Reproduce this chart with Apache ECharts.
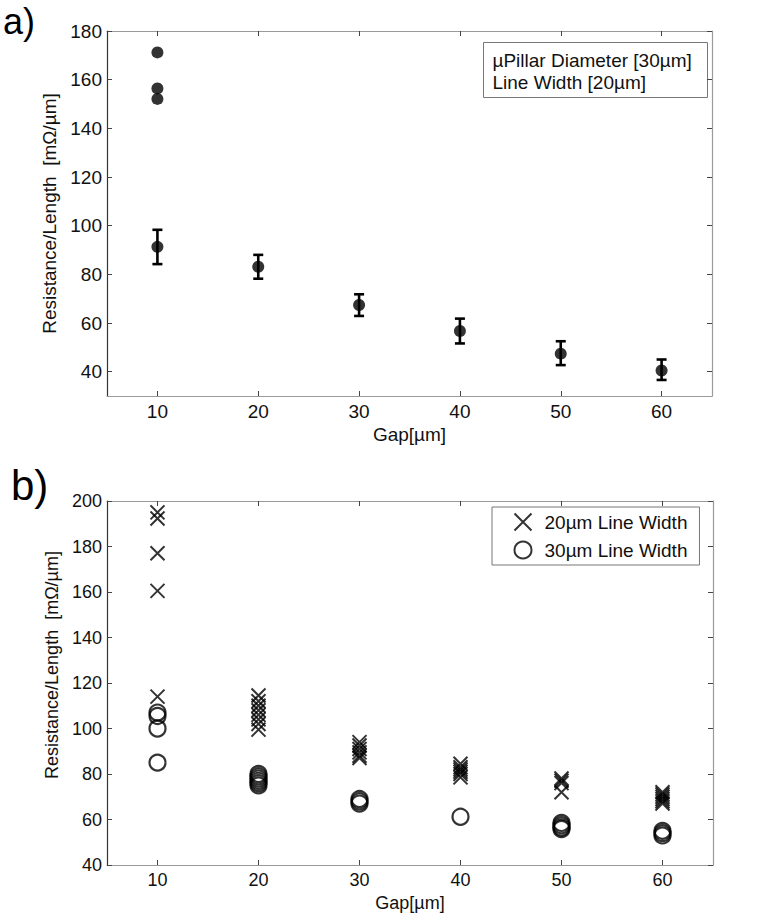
<!DOCTYPE html>
<html>
<head>
<meta charset="utf-8">
<script src="https://cdn.jsdelivr.net/npm/echarts@6/dist/echarts.min.js"></script>
<style>
html,body{margin:0;padding:0;background:#fff;}
#chart{width:771px;height:918px;}
</style>
</head>
<body>
<div id="chart"></div>
<script>
// ---- tick labels ----
const gapTicks = [10, 20, 30, 40, 50, 60];
const yTicksA = [40, 60, 80, 100, 120, 140, 160, 180];
const yTicksB = [40, 60, 80, 100, 120, 140, 160, 180, 200];

// ---- panel a: mean with error bars ----
const gapA = [10, 20, 30, 40, 50, 60];
const meanA = [91.3, 83.1, 67.4, 56.7, 47.4, 40.5];
const lowA = [84.2, 78.2, 62.9, 51.6, 42.7, 36.6];
const highA = [98.3, 88.0, 71.8, 61.8, 52.5, 45.0];
// extra single points at gap 10
const extraGapA = [10, 10, 10];
const extraValA = [171.2, 156.4, 152.1];

// ---- panel b: individual measurements ----
const lw20Gap = [10, 10, 10, 10, 10,
  20, 20, 20, 20, 20, 20, 20, 20,
  30, 30, 30, 30, 30, 30,
  40, 40, 40, 40, 40, 40,
  50, 50, 50, 50,
  60, 60, 60, 60, 60, 60];
const lw20Val = [195, 192.3, 177, 160.5, 114,
  114.5, 112, 110, 108, 106, 104, 102, 99.5,
  94, 92.5, 91, 89.5, 88, 87,
  84.5, 83, 82, 81, 80, 78.5,
  78, 77, 76, 72,
  72, 71, 70, 69, 68, 67];
const lw30Gap = [10, 10, 10, 10,
  20, 20, 20, 20, 20, 20,
  30, 30, 30,
  40,
  50, 50, 50, 50,
  60, 60, 60];
const lw30Val = [107, 105.5, 100, 85,
  80, 79, 78, 77, 76, 75,
  69, 68, 67,
  61.2,
  58.5, 57.5, 56.5, 55.8,
  55, 54, 53];

const legendA = ['µPillar Diameter [30µm]', 'Line Width [20µm]'];
const seriesNamesB = ['20µm Line Width', '30µm Line Width'];

const FONT = 'Liberation Sans, Arial, Helvetica, sans-serif';
const zip = (a, b) => a.map((v, i) => [v, b[i]]);

function xAxes(grid, fs) {
  const base = {
    gridIndex: grid, type: 'value', min: 5, max: 65,
    splitLine: { show: false },
    axisLine: { show: true, onZero: false, lineStyle: { color: '#9a9a9a', width: 1.2 } },
    axisTick: { show: true, inside: true, length: 5, customValues: gapTicks, lineStyle: { color: '#444', width: 1 } }
  };
  return [
    Object.assign({}, base, {
      position: 'bottom',
      axisLabel: { customValues: gapTicks, fontFamily: FONT, fontSize: fs, color: '#111', margin: 6 },
      name: 'Gap[µm]', nameLocation: 'middle', nameGap: 29,
      nameTextStyle: { fontFamily: FONT, fontSize: fs, color: '#111' }
    }),
    Object.assign({}, base, { position: 'top', axisLabel: { show: false } })
  ];
}
function yAxes(grid, min, max, ticks, fs, namePad) {
  const base = {
    gridIndex: grid, type: 'value', min: min, max: max,
    splitLine: { show: false },
    axisTick: { show: true, inside: true, length: 5, customValues: ticks, lineStyle: { color: '#444', width: 1 } }
  };
  return [
    Object.assign({}, base, {
      position: 'left',
      axisLine: { show: true, onZero: false, lineStyle: { color: '#333', width: 1.2 } },
      axisLabel: { customValues: ticks, fontFamily: FONT, fontSize: fs, color: '#111', margin: 5 },
      name: 'Resistance/Length  [mΩ/µm]', nameLocation: 'middle', nameGap: 44,
      nameTextStyle: { fontFamily: FONT, fontSize: fs, color: '#111', padding: namePad }
    }),
    Object.assign({}, base, {
      position: 'right',
      axisLine: { show: true, onZero: false, lineStyle: { color: '#9a9a9a', width: 1.2 } },
      axisLabel: { show: false }
    })
  ];
}

const chart = echarts.init(document.getElementById('chart'), null, { renderer: 'svg' });

const option = {
  backgroundColor: '#fff',
  animation: false,
  title: [
    { text: 'a)', left: 3, top: 3, padding: 0, textStyle: { fontFamily: FONT, fontSize: 36, fontWeight: 'normal', color: '#000' } },
    { text: 'b)', left: 11, top: 464, padding: 0, textStyle: { fontFamily: FONT, fontSize: 42, fontWeight: 'normal', color: '#000' } }
  ],
  grid: [
    { left: 107, top: 31, width: 605, height: 365 },
    { left: 107, top: 501, width: 606, height: 364 }
  ],
  xAxis: [].concat(xAxes(0, 19), xAxes(1, 18)),
  yAxis: [].concat(yAxes(0, 30, 180, yTicksA, 19, 0), yAxes(1, 40, 200, yTicksB, 18, [0, 0, 0, 36])),
  legend: {
    data: seriesNamesB,
    orient: 'vertical',
    left: 492, top: 507,
    itemWidth: 17, itemHeight: 17, itemGap: 6,
    padding: [4, 12, 4, 20],
    borderColor: '#777', borderWidth: 1, backgroundColor: '#fff',
    textStyle: { fontFamily: FONT, fontSize: 19, color: '#111', padding: [0, 0, 0, 8] }
  },
  graphic: [
    {
      type: 'group', left: 483, top: 42,
      children: [
        { type: 'rect', shape: { x: 0, y: 0, width: 224, height: 55 }, style: { fill: '#fff', stroke: '#777', lineWidth: 1 } },
        { type: 'text', x: 9, y: 18, style: { text: legendA[0], fontFamily: FONT, fontSize: 19, fill: '#111', verticalAlign: 'middle' } },
        { type: 'text', x: 9, y: 40, style: { text: legendA[1], fontFamily: FONT, fontSize: 19, fill: '#111', verticalAlign: 'middle' } }
      ]
    }
  ],
  series: [
    {
      type: 'custom', name: 'error', xAxisIndex: 0, yAxisIndex: 0, z: 2,
      data: gapA.map((g, i) => [g, lowA[i], highA[i]]),
      encode: { x: 0, y: [1, 2] },
      renderItem: function (params, api) {
        const x = api.value(0);
        const lo = api.coord([x, api.value(1)]);
        const hi = api.coord([x, api.value(2)]);
        const w = 5;
        const st = { stroke: '#000', lineWidth: 2.6 };
        return {
          type: 'group', children: [
            { type: 'line', shape: { x1: lo[0], y1: lo[1], x2: hi[0], y2: hi[1] }, style: st },
            { type: 'line', shape: { x1: hi[0] - w, y1: hi[1], x2: hi[0] + w, y2: hi[1] }, style: st },
            { type: 'line', shape: { x1: lo[0] - w, y1: lo[1], x2: lo[0] + w, y2: lo[1] }, style: st }
          ]
        };
      }
    },
    {
      type: 'scatter', name: 'mean', xAxisIndex: 0, yAxisIndex: 0, z: 3,
      symbol: 'circle', symbolSize: 12, itemStyle: { color: '#000' },
      data: zip(gapA, meanA)
    },
    {
      type: 'scatter', name: 'single', xAxisIndex: 0, yAxisIndex: 0, z: 3,
      symbol: 'circle', symbolSize: 12, itemStyle: { color: '#000' },
      data: zip(extraGapA, extraValA)
    },
    {
      type: 'scatter', name: seriesNamesB[0], xAxisIndex: 2, yAxisIndex: 2,
      symbol: 'path://M0,0L10,10M10,0L0,10', symbolSize: 14,
      itemStyle: { color: 'none', borderColor: '#000', borderWidth: 2 },
      data: zip(lw20Gap, lw20Val)
    },
    {
      type: 'scatter', name: seriesNamesB[1], xAxisIndex: 2, yAxisIndex: 2,
      symbol: 'circle', symbolSize: 16,
      itemStyle: { color: 'none', borderColor: '#000', borderWidth: 2.2 },
      data: zip(lw30Gap, lw30Val)
    }
  ]
};
chart.setOption(option);
</script>
</body>
</html>
